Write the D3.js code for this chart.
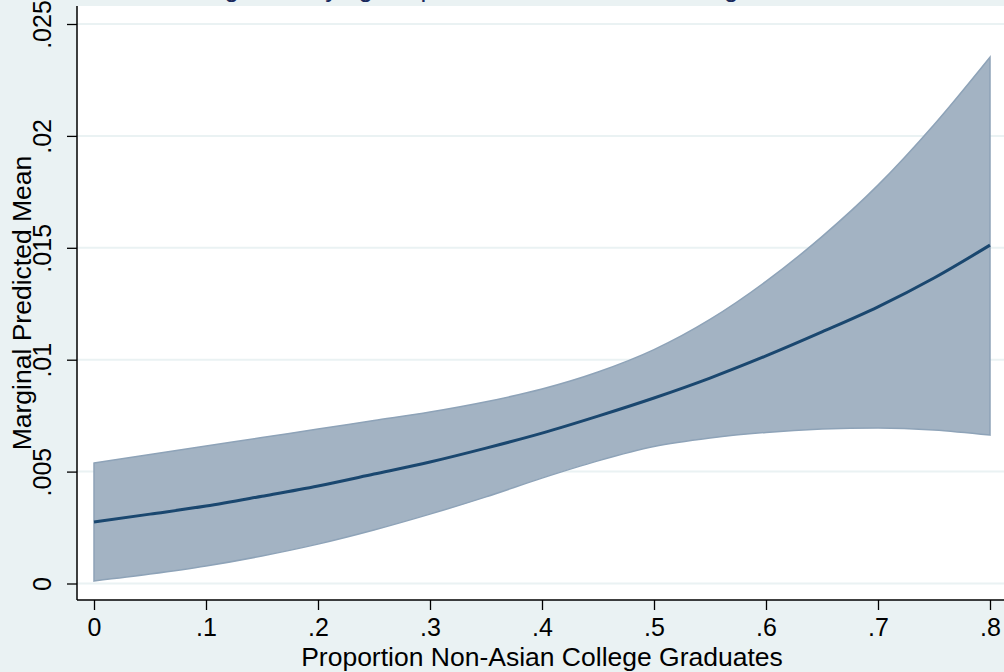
<!DOCTYPE html>
<html>
<head>
<meta charset="utf-8">
<script src="https://cdn.jsdelivr.net/npm/d3@7"></script>
<style>
  html, body { margin: 0; padding: 0; background: #eaf2f3; }
  svg { display: block; }
  text { font-family: "Liberation Sans", Arial, Helvetica, sans-serif; fill: #000; }
</style>
</head>
<body>
<svg id="chart" width="1004" height="672"></svg>
<script>
// Proportion of non-Asian college graduates (x) and predicted mean with 95% CI
const xValues   = [0, 0.05, 0.1, 0.15, 0.2, 0.25, 0.3, 0.35, 0.4, 0.45, 0.5, 0.55, 0.6, 0.65, 0.7, 0.75, 0.8];
const meanValues = [0.00275, 0.0031, 0.00346, 0.0039, 0.00436, 0.00489, 0.00543, 0.00605, 0.00672, 0.00748, 0.00829, 0.00918, 0.01017, 0.01124, 0.01236, 0.01365, 0.01512];
const upperValues = [0.00538, 0.00576, 0.00614, 0.00652, 0.0069, 0.00728, 0.00766, 0.00812, 0.00869, 0.00945, 0.01045, 0.0118, 0.0135, 0.0155, 0.0178, 0.0205, 0.02352];
const lowerValues = [0.00011, 0.00042, 0.00078, 0.00123, 0.00176, 0.00239, 0.0031, 0.00387, 0.00471, 0.00548, 0.00612, 0.0065, 0.00675, 0.0069, 0.00695, 0.00686, 0.00663];

const xTicks = [0, 0.1, 0.2, 0.3, 0.4, 0.5, 0.6, 0.7, 0.8];
const xTickLabels = ["0", ".1", ".2", ".3", ".4", ".5", ".6", ".7", ".8"];
const yTicks = [0, 0.005, 0.01, 0.015, 0.02, 0.025];
const yTickLabels = ["0", ".005", ".01", ".015", ".02", ".025"];

const titleText = "Predictive Margins: Varying Proportion of Non-Asian College Graduates";
const xTitle = "Proportion Non-Asian College Graduates";
const yTitle = "Marginal Predicted Mean";

const svg = d3.select("#chart");
const W = 1004, H = 672;

// plot region
const plot = { left: 77, top: 6, right: 1004, bottom: 600 };

const x = d3.scaleLinear().domain([0, 0.8]).range([94, 990]);
const y = d3.scaleLinear().domain([0, 0.025]).range([583.5, 24]);

svg.append("rect").attr("width", W).attr("height", H).attr("fill", "#eaf2f3");
svg.append("rect")
  .attr("x", plot.left).attr("y", plot.top)
  .attr("width", plot.right - plot.left).attr("height", plot.bottom - plot.top)
  .attr("fill", "#ffffff");

// title (sits above the top edge; only its descenders reach the canvas)
svg.append("text")
  .attr("x", 470).attr("y", -3)
  .attr("text-anchor", "middle")
  .style("font-size", "26px")
  .style("fill", "#1a2a5e")
  .text(titleText);

// horizontal grid
svg.append("g").selectAll("line").data(yTicks).join("line")
  .attr("x1", plot.left).attr("x2", plot.right)
  .attr("y1", d => y(d)).attr("y2", d => y(d))
  .attr("stroke", "#eaf2f3").attr("stroke-width", 2);

const data = xValues.map((v, i) => ({ x: v, m: meanValues[i], lo: lowerValues[i], hi: upperValues[i] }));

// confidence band
const area = d3.area()
  .x(d => x(d.x)).y0(d => y(d.lo)).y1(d => y(d.hi))
  .curve(d3.curveMonotoneX);
svg.append("path").datum(data)
  .attr("d", area)
  .attr("fill", "#a3b3c3")
  .attr("stroke", "#8ea3b8").attr("stroke-width", 1.5);

// predicted mean line
const line = d3.line().x(d => x(d.x)).y(d => y(d.m)).curve(d3.curveMonotoneX);
svg.append("path").datum(data)
  .attr("d", line)
  .attr("fill", "none")
  .attr("stroke", "#1a476f").attr("stroke-width", 3);

// y axis
const yAxis = d3.axisLeft(y).tickValues(yTicks).tickFormat((d, i) => yTickLabels[i]).tickSize(10).tickPadding(0);
const gy = svg.append("g").attr("transform", `translate(${plot.left},0)`).call(yAxis);
gy.select(".domain").attr("d", `M0,${plot.top}V${plot.bottom}`).attr("stroke", "#000").attr("stroke-width", 1.5);
gy.selectAll(".tick line").attr("stroke", "#000").attr("stroke-width", 1.3);
gy.selectAll(".tick text")
  .attr("x", 0).attr("dy", 0)
  .attr("transform", "translate(-33,0) rotate(-90)")
  .attr("text-anchor", "middle")
  .attr("dominant-baseline", "middle")
  .style("font-size", "25px")
  .style("font-family", "'Liberation Sans', Arial, sans-serif");

// x axis
const xAxis = d3.axisBottom(x).tickValues(xTicks).tickFormat((d, i) => xTickLabels[i]).tickSize(10).tickPadding(8);
const gx = svg.append("g").attr("transform", `translate(0,${plot.bottom})`).call(xAxis);
gx.select(".domain").attr("d", `M${plot.left},0H${plot.right}`).attr("stroke", "#000").attr("stroke-width", 1.5);
gx.selectAll(".tick line").attr("stroke", "#000").attr("stroke-width", 1.3);
gx.selectAll(".tick text")
  .style("font-size", "25px")
  .style("font-family", "'Liberation Sans', Arial, sans-serif");

// axis titles
svg.append("text")
  .attr("x", 542).attr("y", 666)
  .attr("text-anchor", "middle")
  .style("font-size", "26.5px")
  .text(xTitle);

svg.append("text")
  .attr("transform", "translate(31,303) rotate(-90)")
  .attr("text-anchor", "middle")
  .style("font-size", "26.5px")
  .text(yTitle);
</script>
</body>
</html>
